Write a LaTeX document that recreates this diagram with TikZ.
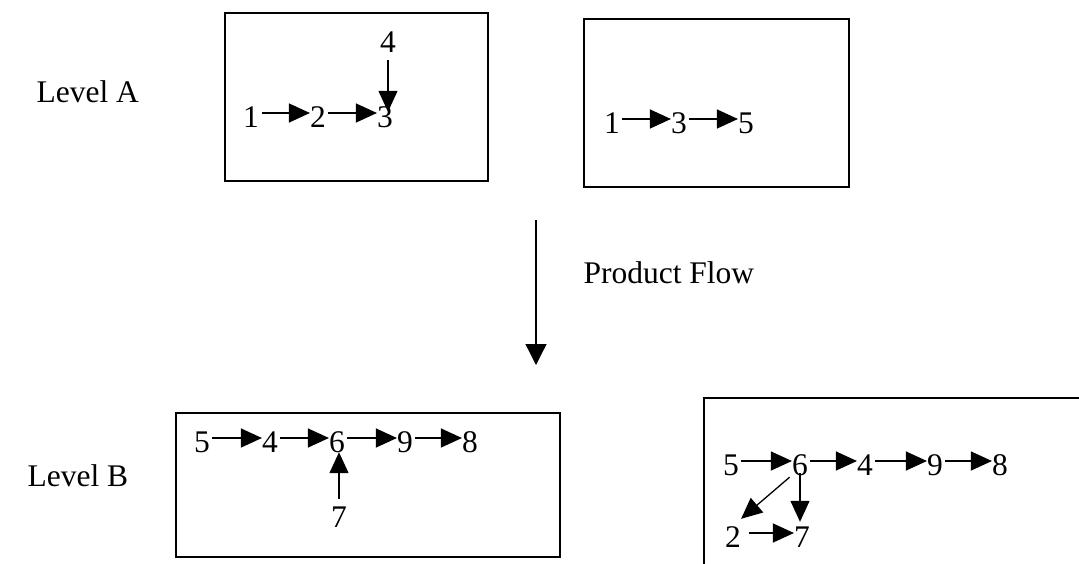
\documentclass[tikz,border=0pt]{standalone}
\usepackage{fontspec}
\setmainfont{Liberation Serif}
\usetikzlibrary{arrows.meta}
\begin{document}
\begin{tikzpicture}[x=1pt,y=-1pt,
    every node/.style={font=\fontsize{31.5}{37}\selectfont},
    num/.style={inner sep=0pt,text height=28pt,text depth=0pt,anchor=base},
    flow/.style={-{Triangle[length=21pt,width=19pt]},line width=1.3pt},
    stage/.style={line width=1.6pt}]
    \clip (0,0) rectangle (1079,563);
    % levels
    \node[anchor=base west] (levA) at (33,102) {Level A};
    \node[anchor=base west] (levB) at (24,486) {Level B};
    % level A, first box
    \draw[stage] (225,13) rectangle (488,181);
    \node[num] (a1) at (251,127) {1};
    \node[num] (a2) at (318,127) {2};
    \node[num] (a3) at (385,127) {3};
    \node[num] (a4) at (388,52) {4};
    \draw[flow,shorten <=3pt] (a1) -- (a2);
    \draw[flow,shorten <=2pt] (a2) -- (a3);
    \draw[flow,shorten <=8pt,shorten >=-13pt] (a4.south) -- (a4.south |- a3.north);
    % level A, second box
    \draw[stage] (584,19) rectangle (849,187);
    \node[num] (c1) at (612,133) {1};
    \node[num] (c3) at (679,133) {3};
    \node[num] (c5) at (746,133) {5};
    \draw[flow,shorten <=2pt] (c1) -- (c3);
    \draw[flow,shorten <=2pt] (c3) -- (c5);
    % product flow
    \coordinate (pfTop) at (536,220);
    \coordinate (pfEnd) at (536,365);
    \draw[flow,-{Triangle[length=21pt,width=21pt]}] (pfTop) -- (pfEnd);
    \node[anchor=base west] (pf) at (580,283) {Product Flow};
    % level B, first box
    \draw[stage] (176,413) rectangle (560,557);
    \node[num] (b5) at (202,452) {5};
    \node[num] (b4) at (270,452) {4};
    \node[num] (b6) at (337,452) {6};
    \node[num] (b9) at (405,452) {9};
    \node[num] (b8) at (470,452) {8};
    \node[num] (b7) at (339,527) {7};
    \draw[flow,shorten <=2pt] (b5) -- (b4);
    \draw[flow,shorten <=2pt] (b4) -- (b6);
    \draw[flow,shorten <=2pt] (b6) -- (b9);
    \draw[flow,shorten <=2pt] (b9) -- (b8);
    \draw[flow] (b7.north) -- (b7.north |- b6.south);
    % level B, second box
    \draw[stage] (1100,398) -- (704,398) -- (704,600);
    \node[num] (d5) at (731,475) {5};
    \node[num] (d6) at (800,475) {6};
    \node[num] (d4) at (865,475) {4};
    \node[num] (d9) at (935,475) {9};
    \node[num] (d8) at (1000,475) {8};
    \node[num] (d2) at (733,547) {2};
    \node[num] (d7) at (802,547) {7};
    \draw[flow,shorten <=2pt] (d5) -- (d6);
    \draw[flow,shorten <=2pt] (d6) -- (d4);
    \draw[flow,shorten <=2pt] (d4) -- (d9);
    \draw[flow,shorten <=2pt] (d9) -- (d8);
    \draw[flow,shorten <=-2pt,shorten >=-3pt] (d6.south) -- (d6.south |- d7.north);
    \draw[flow,shorten <=3pt] (d6.south west) -- (d2.north east);
    \draw[flow,shorten <=8pt] (d2) -- (d7);
\end{tikzpicture}
\end{document}
